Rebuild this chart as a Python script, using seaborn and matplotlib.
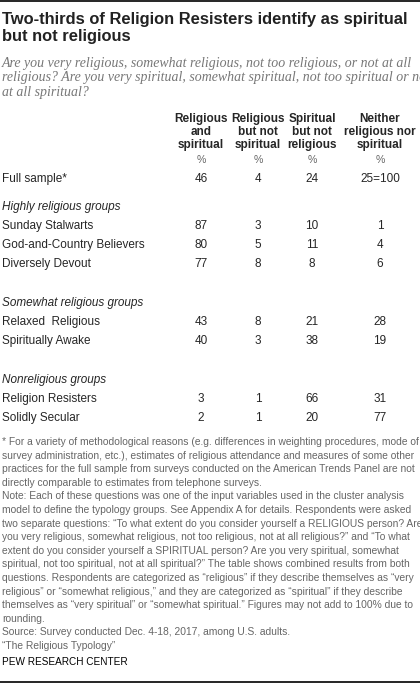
import seaborn as sns
import matplotlib.pyplot as plt

sns.set_style("white")
plt.rcParams['font.family'] = ['Liberation Sans', 'DejaVu Sans']

# table contents
columns = ["Religious\nand\nspiritual", "Religious\nbut not\nspiritual",
           "Spiritual\nbut not\nreligious", "Neither\nreligious nor\nspiritual"]
full_sample = ["46", "4", "24", "25=100"]
groups = ["Highly religious groups", "Somewhat religious groups", "Nonreligious groups"]
rows = [
    [("Sunday Stalwarts", [87, 3, 10, 1]),
     ("God-and-Country Believers", [80, 5, 11, 4]),
     ("Diversely Devout", [77, 8, 8, 6])],
    [("Relaxed  Religious", [43, 8, 21, 28]),
     ("Spiritually Awake", [40, 3, 38, 19])],
    [("Religion Resisters", [3, 1, 66, 31]),
     ("Solidly Secular", [2, 1, 20, 77])],
]
group_y = [207, 303, 380]

title = "Two-thirds of Religion Resisters identify as spiritual\nbut not religious"
subtitle = ("Are you very religious, somewhat religious, not too religious, or not at all\n"
            "religious? Are you very spiritual, somewhat spiritual, not too spiritual or not\n"
            "at all spiritual?")
footnote = [
    "* For a variety of methodological reasons (e.g. differences in weighting procedures, mode of",
    "survey administration, etc.), estimates of religious attendance and measures of some other",
    "practices for the full sample from surveys conducted on the American Trends Panel are not",
    "directly comparable to estimates from telephone surveys.",
    "Note: Each of these questions was one of the input variables used in the cluster analysis",
    "model to define the typology groups. See Appendix A for details. Respondents were asked",
    "two separate questions: \u201cTo what extent do you consider yourself a RELIGIOUS person? Are",
    "you very religious, somewhat religious, not too religious, not at all religious?\u201d and \u201cTo what",
    "extent do you consider yourself a SPIRITUAL person? Are you very spiritual, somewhat",
    "spiritual, not too spiritual, not at all spiritual?\u201d The table shows combined results from both",
    "questions. Respondents are categorized as \u201creligious\u201d if they describe themselves as \u201cvery",
    "religious\u201d or \u201csomewhat religious,\u201d and they are categorized as \u201cspiritual\u201d if they describe",
    "themselves as \u201cvery spiritual\u201d or \u201csomewhat spiritual.\u201d Figures may not add to 100% due to",
    "rounding.",
    "Source: Survey conducted Dec. 4-18, 2017, among U.S. adults.",
    "\u201cThe Religious Typology\u201d",
]

col_x = [201, 258, 312, 380]
fs = 8.5

fig = plt.figure(figsize=(4.2, 6.83), dpi=100)
ax = fig.add_axes([0, 0, 1, 1])
ax.set_xlim(0, 420)
ax.set_ylim(683, 0)
ax.axis("off")

ax.axhline(1, color="black", lw=1.2)
ax.axhline(682, color="black", lw=1.2)

ax.text(2, 12, title, fontsize=11.9, fontweight="bold", va="top", linespacing=1.2, color="#222222")
ax.text(2, 57, subtitle, fontsize=10.0, style="italic", family=["Liberation Serif"],
        va="top", linespacing=1.15, color="#777777")

for x, c in zip(col_x, columns):
    ax.text(x, 132, c, fontsize=fs, fontweight="bold", ha="center", va="center", linespacing=1.1)
    ax.text(x, 160, "%", fontsize=fs - 0.8, ha="center", va="center", color="#666666")

ax.text(2, 179, "Full sample*", fontsize=fs, va="center")
for x, v in zip(col_x, full_sample):
    ax.text(x, 179, v, fontsize=fs, ha="center", va="center")

for gname, gy, grows in zip(groups, group_y, rows):
    ax.text(2, gy, gname, fontsize=fs, style="italic", va="center")
    for i, (name, vals) in enumerate(grows):
        y = gy + 19 * (i + 1)
        ax.text(2, y, name, fontsize=fs, va="center")
        for x, v in zip(col_x, vals):
            ax.text(x, y, str(v), fontsize=fs, ha="center", va="center")

for i, line in enumerate(footnote):
    ax.text(2, 442 + 13.6 * i, line, fontsize=7.4, va="center", color="#666666")

ax.text(2, 662, "PEW RESEARCH CENTER", fontsize=7.2, va="center", color="black")

fig.savefig("out.png", dpi=100)
